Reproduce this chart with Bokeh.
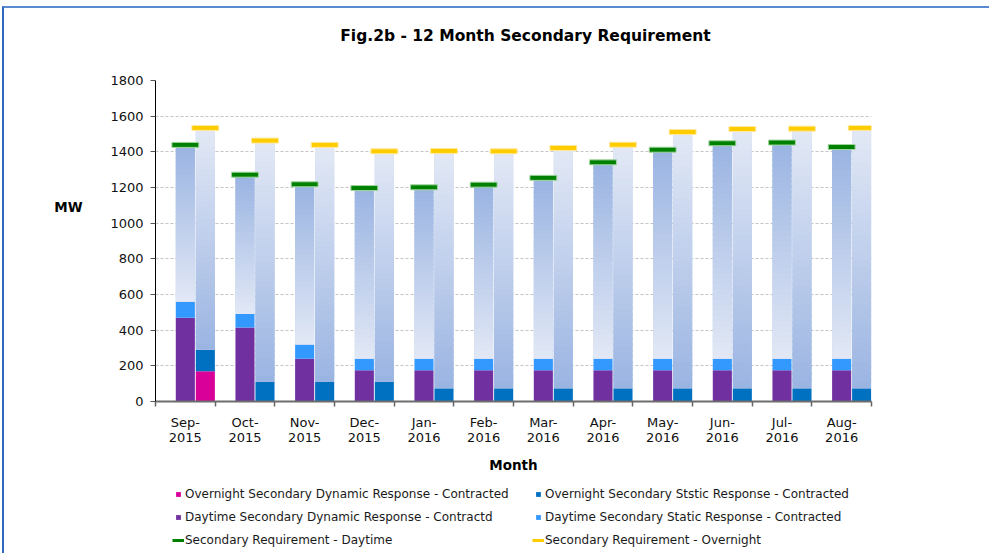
import numpy as np
from bokeh.plotting import figure
from bokeh.layouts import column
from bokeh.models import Range1d, FixedTicker, Legend, LegendItem, Label
from bokeh.embed import file_html
from bokeh.resources import INLINE

# ---------------- data ----------------
months = ["Sep-2015", "Oct-2015", "Nov-2015", "Dec-2015", "Jan-2016", "Feb-2016",
          "Mar-2016", "Apr-2016", "May-2016", "Jun-2016", "Jul-2016", "Aug-2016"]
tick_labels = [m.replace("-", "-\n") for m in months]

day_dynamic = [470, 415, 240, 175, 175, 175, 175, 175, 175, 175, 175, 175]
day_static = [90, 75, 80, 65, 65, 65, 65, 65, 65, 65, 65, 65]
night_dynamic = [170, 0, 0, 0, 0, 0, 0, 0, 0, 0, 0, 0]
night_static = [120, 110, 110, 110, 75, 75, 75, 75, 75, 75, 75, 75]
day_req = [1425, 1258, 1204, 1183, 1187, 1202, 1240, 1327, 1398, 1434, 1438, 1413]
night_req = [1520, 1449, 1425, 1389, 1391, 1389, 1408, 1426, 1497, 1514, 1516, 1520]

title_text = "Fig.2b - 12 Month Secondary Requirement"
x_title = "Month"
y_title = "MW"
legend_labels = {
    "n_dyn": "Overnight Secondary Dynamic Response - Contracted",
    "n_sta": "Overnight Secondary Ststic Response - Contracted",
    "d_dyn": "Daytime Secondary Dynamic Response - Contractd",
    "d_sta": "Daytime Secondary Static Response - Contracted",
    "r_day": "Secondary Requirement - Daytime",
    "r_night": "Secondary Requirement - Overnight",
}

# ---------------- styles ----------------
FONT = "DejaVu Sans"
C_PURPLE = "#7030A0"
C_LBLUE = "#3399FF"
C_MAGENTA = "#D9009A"
C_DBLUE = "#0070C0"
C_GREEN = "#008000"
C_YELLOW = "#FFCC00"
GRAD_DARK = "#9AB4E2"
GRAD_LIGHT = "#E2E8F5"
BAR_W = 0.32
DAY_OFF = 0.5
NIGHT_OFF = 0.835
MARK_W = 0.45
MARK_H = 28
N_SLICES = 40


def lerp(c1, c2, t):
    a = [int(c1[i:i + 2], 16) for i in (1, 3, 5)]
    b = [int(c2[i:i + 2], 16) for i in (1, 3, 5)]
    return "#%02x%02x%02x" % tuple(int(round(a[j] + (b[j] - a[j]) * t)) for j in range(3))


idx = np.arange(len(months))
day_x = idx + DAY_OFF
night_x = idx + NIGHT_OFF
d_dyn = np.array(day_dynamic, float)
d_con = d_dyn + np.array(day_static, float)
n_dyn = np.array(night_dynamic, float)
n_con = n_dyn + np.array(night_static, float)
d_req = np.array(day_req, float)
n_req = np.array(night_req, float)

p = figure(width=985, height=472, x_range=Range1d(0, 12), y_range=Range1d(0, 1800),
           output_backend="svg", toolbar_location=None,
           min_border_left=151, min_border_right=118, min_border_top=72, min_border_bottom=79)
p.background_fill_color = "white"
p.border_fill_color = "white"
p.outline_line_color = None


def gradient(xs, lo, hi, c_bottom, c_top):
    xx, bb, tt, cc = [], [], [], []
    for i in range(len(xs)):
        step = (hi[i] - lo[i]) / N_SLICES
        for k in range(N_SLICES):
            b = lo[i] + step * k
            t = min(lo[i] + step * (k + 1.5), hi[i])
            xx.append(xs[i]); bb.append(b); tt.append(t)
            cc.append(lerp(c_bottom, c_top, (k + 0.5) / N_SLICES))
    return xx, bb, tt, cc


# day bars
p.vbar(x=day_x, bottom=0, top=d_dyn, width=BAR_W, fill_color=C_PURPLE, line_color=None)
p.vbar(x=day_x, bottom=d_dyn, top=d_con, width=BAR_W, fill_color=C_LBLUE, line_color=None)
p.vbar(x=day_x, bottom=d_con, top=d_req, width=BAR_W, fill_color=lerp(GRAD_LIGHT, GRAD_DARK, 0.5), line_color=None)
gx, gb, gt, gc = gradient(day_x, d_con, d_req, GRAD_LIGHT, GRAD_DARK)
p.vbar(x=gx, bottom=gb, top=gt, width=BAR_W, fill_color=gc, line_color=None)

# night bars
p.vbar(x=night_x, bottom=0, top=n_dyn, width=BAR_W, fill_color=C_MAGENTA, line_color=None)
p.vbar(x=night_x, bottom=n_dyn, top=n_con, width=BAR_W, fill_color=C_DBLUE, line_color=None)
p.vbar(x=night_x, bottom=n_con, top=n_req, width=BAR_W, fill_color=lerp(GRAD_LIGHT, GRAD_DARK, 0.5), line_color=None)
gx, gb, gt, gc = gradient(night_x, n_con, n_req, GRAD_DARK, GRAD_LIGHT)
p.vbar(x=gx, bottom=gb, top=gt, width=BAR_W, fill_color=gc, line_color=None)

# requirement markers
p.vbar(x=day_x, bottom=d_req, top=d_req + MARK_H, width=MARK_W, fill_color=C_GREEN,
       line_color="#9fd49f", line_width=1)
p.vbar(x=night_x, bottom=n_req, top=n_req + MARK_H, width=MARK_W, fill_color=C_YELLOW,
       line_color="#ffe9a0", line_width=1)

# axes
xax = p.xaxis[0]
xax.ticker = FixedTicker(ticks=list(day_x), minor_ticks=list(range(len(months) + 1)))
xax.major_label_overrides = {float(day_x[i]): tick_labels[i] for i in range(len(months))}
xax.major_tick_line_color = None
xax.major_tick_out = 0
xax.major_tick_in = 0
xax.minor_tick_out = 5
xax.minor_tick_in = 0
xax.minor_tick_line_color = "#666666"
xax.minor_tick_line_width = 1.5
xax.axis_line_color = "#6d6d6d"
xax.axis_line_width = 2
xax.major_label_standoff = 8
xax.major_label_text_font = FONT
xax.major_label_text_font_size = "13px"
xax.major_label_text_line_height = 1.06
xax.major_label_text_color = "#111111"
xax.axis_label = x_title
xax.axis_label_text_font = FONT
xax.axis_label_text_font_size = "13.5px"
xax.axis_label_text_font_style = "bold"
xax.axis_label_text_color = "#000000"
xax.axis_label_standoff = 9

yax = p.yaxis[0]
yax.ticker = FixedTicker(ticks=list(range(0, 1801, 200)), minor_ticks=[])
yax.axis_line_color = "#000000"
yax.axis_line_width = 1
yax.major_tick_out = 5
yax.major_tick_in = 0
yax.major_tick_line_color = "#555555"
yax.major_label_standoff = 7
yax.major_label_text_font = FONT
yax.major_label_text_font_size = "13px"
yax.major_label_text_color = "#111111"

p.xgrid.visible = False
p.ygrid.grid_line_color = "#c4c4c4"
p.ygrid.grid_line_dash = "3 2"
p.ygrid.grid_line_width = 1

# title and y title as labels in the side panels
p.add_layout(Label(x=6.2, y=2052, text=title_text, text_align="center", text_baseline="middle",
                   text_font=FONT, text_font_size="15.5px", text_font_style="bold",
                   text_color="#000000"), "above")
p.add_layout(Label(x=-1.46, y=1088, text=y_title, text_align="center", text_baseline="middle",
                   text_font=FONT, text_font_size="13.5px", text_font_style="bold",
                   text_color="#000000"), "left")

# ---------------- legend figure ----------------
pl = figure(width=985, height=73, x_range=Range1d(0, 1), y_range=Range1d(0, 1),
            output_backend="svg", toolbar_location=None,
            x_axis_location=None, y_axis_location=None,
            min_border_left=151, min_border_right=118, min_border_top=0, min_border_bottom=0)
pl.grid.visible = False
pl.outline_line_color = None
pl.background_fill_color = "white"
pl.border_fill_color = "white"

NO_POINT = [np.nan]
lg_n_dyn = pl.scatter(x=NO_POINT, y=NO_POINT, marker="square", fill_color=C_MAGENTA, line_color=None)
lg_n_sta = pl.scatter(x=NO_POINT, y=NO_POINT, marker="square", fill_color=C_DBLUE, line_color=None)
lg_d_dyn = pl.scatter(x=NO_POINT, y=NO_POINT, marker="square", fill_color=C_PURPLE, line_color=None)
lg_d_sta = pl.scatter(x=NO_POINT, y=NO_POINT, marker="square", fill_color=C_LBLUE, line_color=None)
lg_r_day = pl.line(x=NO_POINT, y=NO_POINT, line_color=C_GREEN, line_width=3)
lg_r_night = pl.line(x=NO_POINT, y=NO_POINT, line_color=C_YELLOW, line_width=3)

legend = Legend(items=[
    LegendItem(label=legend_labels["n_dyn"], renderers=[lg_n_dyn]),
    LegendItem(label=legend_labels["d_dyn"], renderers=[lg_d_dyn]),
    LegendItem(label=legend_labels["r_day"], renderers=[lg_r_day]),
    LegendItem(label=legend_labels["n_sta"], renderers=[lg_n_sta]),
    LegendItem(label=legend_labels["d_sta"], renderers=[lg_d_sta]),
    LegendItem(label=legend_labels["r_night"], renderers=[lg_r_night]),
], location=(17, 6), orientation="vertical", ncols=2,
    glyph_width=12, glyph_height=14, label_height=14, label_width=338, label_standoff=1,
    spacing=9, padding=0, margin=0, border_line_color=None, background_fill_alpha=0,
    label_text_font=FONT, label_text_font_size="12px", label_text_color="#1a1a1a")
pl.add_layout(legend, "center")

page = column(p, pl, spacing=0)
page.styles = {"margin-left": "2px", "margin-top": "6px",
               "border-left": "2px solid #2F67BF", "border-top": "2px solid #5A8AD0"}

open("out.html", "w").write(file_html(page, INLINE))
